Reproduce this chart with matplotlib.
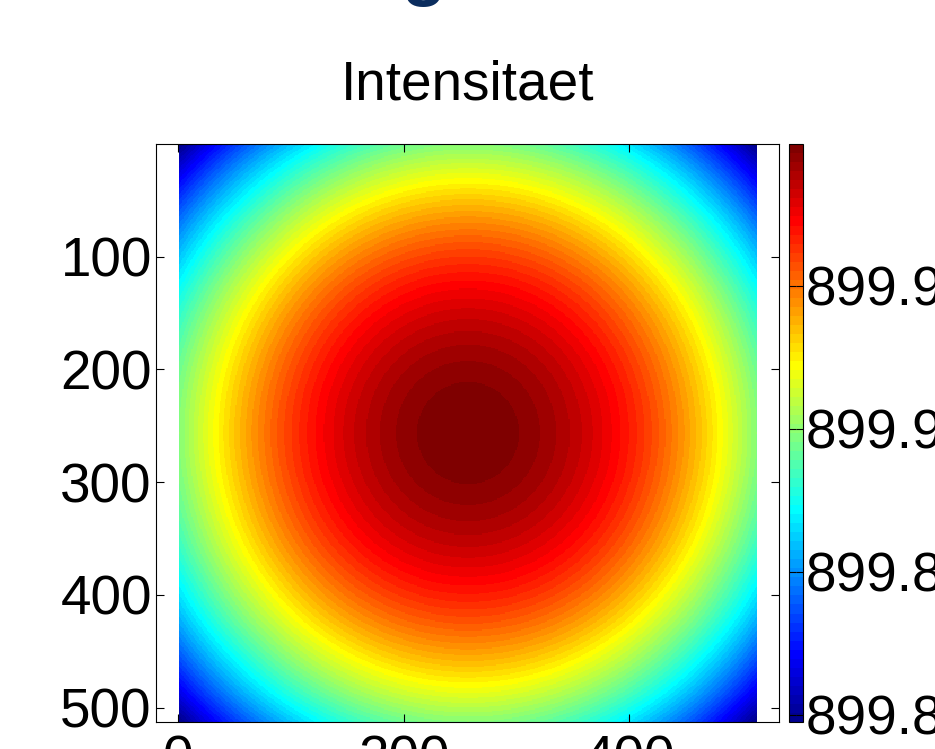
import numpy as np
import matplotlib
matplotlib.use("Agg")
import matplotlib.pyplot as plt
from matplotlib.colors import ListedColormap

plt.rcParams['font.family'] = ['Liberation Sans', 'DejaVu Sans']

# ---- data ----
title_text = "Intensitaet"
n_pixels = 512                 # image is 512 x 512
center_xy = (256.5, 256.5)     # position of intensity maximum
I_peak = 899.9995              # value at the centre (top of colour bar)
I_corner = 899.7976            # value in the corners (bottom of colour bar)
x_ticks = [0, 200, 400]
y_ticks = [100, 200, 300, 400, 500]
cbar_ticks = [899.80, 899.85, 899.90, 899.95]
cbar_labels = ["899.8", "899.85", "899.9", "899.95"]

# radially symmetric (parabolic) intensity field
px = np.arange(1, n_pixels + 1)
X, Y = np.meshgrid(px, px)
r2 = (X - center_xy[0]) ** 2 + (Y - center_xy[1]) ** 2
field = I_peak - (I_peak - I_corner) * r2 / r2.max()

# ---- MATLAB jet(64) colormap ----
def matlab_jet(m=64):
    n = int(np.ceil(m / 4))
    u = np.concatenate([np.arange(1, n + 1) / n, np.ones(n - 1), np.arange(n, 0, -1) / n])
    g = int(np.ceil(n / 2)) - (1 if m % 4 == 1 else 0) + np.arange(1, len(u) + 1)
    r = g + n
    b = g - n
    J = np.zeros((m, 3))
    ok = r <= m
    J[r[ok] - 1, 0] = u[ok]
    ok = g <= m
    J[g[ok] - 1, 1] = u[ok]
    ok = b >= 1
    J[b[ok] - 1, 2] = u[ok]
    return ListedColormap(J)

cmap = matlab_jet(64)

FS = 39.5
W, H = 935, 749
fig = plt.figure(figsize=(W / 100, H / 100), dpi=100)

ax_l, ax_r, ax_t, ax_b = 156.0, 779.3, 144.3, 721.8
ax = fig.add_axes([ax_l / W, (H - ax_b) / H, (ax_r - ax_l) / W, (ax_b - ax_t) / H])
im = ax.imshow(field, cmap=cmap, vmin=field.min(), vmax=field.max(),
               extent=(0.5, n_pixels + 0.5, n_pixels + 0.5, 0.5),
               interpolation='nearest', aspect='auto')
s = (ax_b - ax_t) / n_pixels
img_left_px = 178.5
ax.set_xlim(0.5 - (img_left_px - ax_l) / s, 0.5 + (ax_r - img_left_px) / s)
ax.set_ylim(n_pixels + 0.5, 0.5)
ax.set_xticks(x_ticks)
ax.set_yticks(y_ticks)
ax.tick_params(which='both', direction='in', top=True, right=True, length=6, width=0.8,
               labelsize=FS)
ax.tick_params(axis='y', pad=3.0)
ax.tick_params(axis='x', pad=9.5)
for sp in ax.spines.values():
    sp.set_linewidth(0.8)
ax.set_title(title_text, fontsize=FS, pad=31.9)

c_l, c_r = 789.3, 802.7
cax = fig.add_axes([c_l / W, (H - ax_b) / H, (c_r - c_l) / W, (ax_b - ax_t) / H])
cb = fig.colorbar(im, cax=cax)
cb.set_ticks(cbar_ticks)
cb.set_ticklabels(cbar_labels)
cb.minorticks_off()
cb.outline.set_linewidth(0.8)
cax.tick_params(which='both', direction='in', left=True, right=True, length=5, width=0.8,
                labelsize=FS, pad=2.0)

# partially visible heading above the chart (cut off by the top edge)
fig.text(424 / W, 1 + 8 / H, "g", ha='center', va='baseline', fontsize=52,
         fontweight='bold', color='#0b2d5e')

fig.savefig("out.png", dpi=100)
